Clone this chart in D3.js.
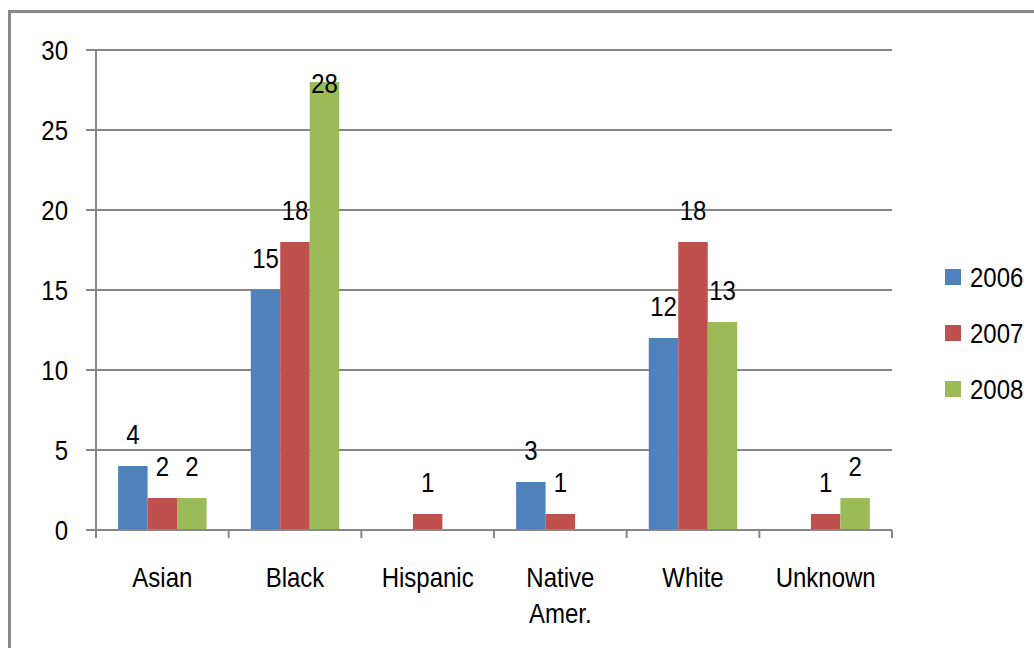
<!DOCTYPE html>
<html>
<head>
<meta charset="utf-8">
<script src="https://cdn.jsdelivr.net/npm/d3@7"></script>
<style>
  html, body { margin: 0; padding: 0; background: #fff; }
  svg { display: block; }
  text { font-family: "Liberation Sans", Arial, sans-serif; fill: #000; }
</style>
</head>
<body>
<script>
// ---- data ----
const categories = ["Asian", "Black", "Hispanic", "Native Amer.", "White", "Unknown"];
const seriesNames = ["2006", "2007", "2008"];
const values2006 = [4, 15, 0, 3, 12, 0];
const values2007 = [2, 18, 1, 1, 18, 1];
const values2008 = [2, 28, 0, 0, 13, 2];
const yTicks = [0, 5, 10, 15, 20, 25, 30];
const colors = ["#4F81BD", "#C0504D", "#9BBB59"];

const seriesValues = [values2006, values2007, values2008];

const W = 1034, H = 648;
const svg = d3.select("body").append("svg").attr("width", W).attr("height", H);

// frame (cut off at right and bottom)
svg.append("path")
  .attr("d", `M9.5,${H + 5} L9.5,11.5 L${W + 5},11.5`)
  .attr("fill", "none").attr("stroke", "#8a8a8a").attr("stroke-width", 3);

const plot = { left: 96, right: 892, top: 50, bottom: 530 };

const y = d3.scaleLinear().domain([0, 30]).range([plot.bottom, plot.top]);
const x0 = d3.scaleBand().domain(categories).range([plot.left, plot.right]).padding(0);
const x1 = d3.scaleBand().domain(seriesNames).range([0, x0.bandwidth()])
  .paddingInner(0).paddingOuter(0.75);

const fs = 24;
const sy = 1.16;          // vertical stretch of text, as in the reference
const half = 8.6 * sy;    // half digit height
const gridColor = "#878787";
const pos = (px, py) => `translate(${px},${py}) scale(1,${sy})`;

// gridlines
svg.append("g").selectAll("line").data(yTicks).join("line")
  .attr("x1", plot.left - 10).attr("x2", plot.right)
  .attr("y1", d => y(d)).attr("y2", d => y(d))
  .attr("stroke", gridColor).attr("stroke-width", 2);

// y-axis line
svg.append("line")
  .attr("x1", plot.left).attr("x2", plot.left)
  .attr("y1", plot.top).attr("y2", plot.bottom + 8)
  .attr("stroke", gridColor).attr("stroke-width", 2);

// y tick labels
svg.append("g").selectAll("text").data(yTicks).join("text")
  .attr("transform", d => pos(plot.left - 28, y(d) + half))
  .attr("text-anchor", "end").attr("font-size", fs)
  .text(d => d);

// bars
const rows = [];
categories.forEach((c, i) => {
  seriesNames.forEach((s, j) => {
    rows.push({ cat: c, series: s, value: seriesValues[j][i], color: colors[j] });
  });
});

svg.append("g").selectAll("rect").data(rows.filter(d => d.value > 0)).join("rect")
  .attr("x", d => x0(d.cat) + x1(d.series))
  .attr("y", d => y(d.value))
  .attr("width", x1.bandwidth())
  .attr("height", d => y(0) - y(d.value))
  .attr("fill", d => d.color);

// x axis line + ticks
svg.append("line")
  .attr("x1", plot.left).attr("x2", plot.right)
  .attr("y1", plot.bottom).attr("y2", plot.bottom)
  .attr("stroke", gridColor).attr("stroke-width", 2);
const boundaries = categories.map(c => x0(c)).concat([x0(categories[categories.length - 1]) + x0.bandwidth()]);
svg.append("g").selectAll("line").data(boundaries).join("line")
  .attr("x1", d => d).attr("x2", d => d)
  .attr("y1", plot.bottom).attr("y2", plot.bottom + 8)
  .attr("stroke", gridColor).attr("stroke-width", 2);

// category labels
const catG = svg.append("g");
categories.forEach(c => {
  const words = c.split(" ");
  const cx = x0(c) + x0.bandwidth() / 2;
  const t = catG.append("text")
    .attr("transform", pos(cx, 587))
    .attr("text-anchor", "middle").attr("font-size", fs);
  words.forEach((w, k) => {
    t.append("tspan").attr("x", 0).attr("dy", k === 0 ? 0 : 36 / sy).text(w);
  });
});

// value labels
svg.append("g").selectAll("text").data(rows.filter(d => d.value > 0)).join("text")
  .attr("transform", d => pos(
    x0(d.cat) + x1(d.series) + x1.bandwidth() / 2,
    Math.max(y(d.value) - 32 + half, y(30) + 33 + half)))
  .attr("text-anchor", "middle").attr("font-size", fs)
  .text(d => d.value);

// legend
const legend = svg.append("g").attr("transform", "translate(945,269)");
seriesNames.forEach((s, j) => {
  const g = legend.append("g").attr("transform", `translate(0,${j * 56})`);
  g.append("rect").attr("width", 16).attr("height", 16).attr("fill", colors[j]);
  g.append("text").attr("transform", pos(25, 18)).attr("font-size", fs).text(s);
});
</script>
</body>
</html>
